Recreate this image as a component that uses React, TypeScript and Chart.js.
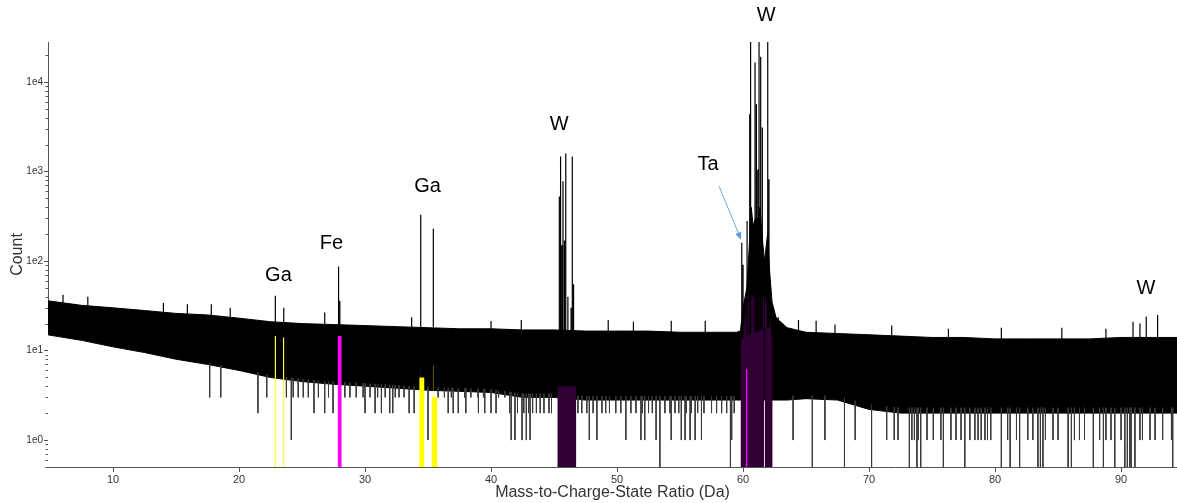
import { useEffect, useRef } from "react";
import { Chart, registerables } from "chart.js";

Chart.register(...registerables);

// ---------- axes ----------
const X_MIN = 4.84;
const X_MAX = 94.44;
const Y_MIN = 0.5;
const Y_MAX = 28000;
const xTicks = [10, 20, 30, 40, 50, 60, 70, 80, 90];
const yTicks = [1, 10, 100, 1000, 10000];
const yTickLabels = ["1e0", "1e1", "1e2", "1e3", "1e4"];
const xTitle = "Mass-to-Charge-State Ratio (Da)";
const yTitle = "Count";

// ---------- background noise band (dense region of the spectrum) ----------
const bandX = [4.8, 7.5, 10, 12.5, 15, 17.5, 20, 22.5, 25, 27.5, 30, 32.5, 35, 37.5, 40, 42.5, 45, 47.5, 50, 52.5, 55, 57.5, 59.5, 62.5, 63.5, 65, 67.5, 70, 72.5, 75, 77.5, 80, 82.5, 85, 87.5, 90, 92.5, 94.5];
const bandTop = [36, 32, 30, 28, 26, 25, 23, 21, 20, 19.5, 19, 18.5, 18, 17.5, 17.5, 17, 17, 16.5, 16.5, 16.5, 16, 16, 16, 24, 18, 16, 15.5, 15, 14.5, 14, 14, 13.5, 13.5, 13.5, 13.5, 14, 14, 14];
const bandBottom = [15, 13, 11, 9.5, 8, 7, 6, 5, 4.5, 4.2, 4, 3.8, 3.6, 3.5, 3.4, 3, 3, 2.8, 2.8, 2.8, 2.8, 2.8, 2.8, 2.8, 2.8, 2.9, 2.8, 2.2, 2, 2, 2, 2, 2, 2, 2, 2, 2, 2];

// dense base of the W 3+ cluster
const skirtX = [59.8, 60.0, 60.3, 60.5, 60.65, 60.8, 61.0, 61.2, 61.35, 61.5, 61.7, 61.95, 62.1, 62.3, 62.6, 63.0];
const skirtCount = [17, 30, 50, 150, 400, 250, 300, 300, 400, 200, 100, 200, 80, 35, 24, 18];

// ---------- peaks and tallest noise bins ----------
const peakX = [22.88, 23.55, 27.9, 28.0, 34.42, 35.42,
  45.42, 45.52, 45.62, 45.71, 45.83, 45.93, 46.1, 46.35, 46.45, 46.55,
  59.9, 60.0, 60.32, 60.53, 60.6, 60.95, 61.06, 61.17, 61.27, 61.4, 61.53, 61.96, 62.06,
  90.95, 91.5, 92.0, 92.9,
  6.03, 8.0, 14.0, 15.9, 17.8, 19.3, 26.8, 33.7, 40.0, 42.4, 49.3, 51.3, 54.3, 57.0,
  62.8, 64.4, 65.8, 67.3, 71.8, 76.3, 80.5, 85.3, 88.8];
const peakCount = [41, 30, 87, 36, 330, 230,
  525, 1470, 150, 780, 170, 1590, 40, 30, 1470, 55,
  160, 91, 280, 4370, 40000, 16500, 5630, 1055, 40000, 19200, 3100, 40000, 820,
  21, 20, 24, 25,
  42, 40, 34, 33, 33, 30, 26.6, 23.5, 21.4, 22, 22, 21, 21.5, 21.5,
  23.5, 22, 21.5, 19.5, 19, 17.5, 18, 18, 17.5];

// ---------- low-count bins below the band ----------
const dipX = [17.67, 18.55, 21.5, 22.2, 24.15, 25.95, 26.8, 27.46, 30.0, 30.8, 31.3, 31.96, 32.2, 33.5, 33.9, 35.0, 36.6, 37.0, 37.4, 38.0, 39.0, 39.5, 40.0, 40.4,
  41.6, 41.9, 42.46, 42.8, 43.1, 47.8, 48.4, 50.7, 51.9, 52.2, 53.1, 53.4, 54.3, 55.1, 55.4, 55.8, 56.2, 56.7, 59.0, 59.1,
  63.97, 65.5, 66.5, 68.05, 68.9, 70.2, 71.4, 72.0, 72.3, 73.2, 73.4, 73.6, 73.8, 73.9, 74.1, 74.6, 75.1, 75.7, 75.9, 76.5, 76.9,
  77.3, 77.6, 78.0, 78.4, 78.65, 78.9, 79.2, 79.4, 79.66, 80.5, 81.0, 81.2, 81.7, 81.95, 82.6, 83.0, 83.4, 83.6, 83.8, 84.0, 84.6, 85.0,
  85.8, 86.06, 86.3, 86.7, 87.1, 87.8, 88.3, 88.6, 88.8, 89.2, 89.5, 90.0, 90.3, 90.5, 90.7, 90.8, 91.1, 91.5, 91.7, 92.3, 92.7, 93.3, 94.0, 94.1,
  41.48, 42.1, 42.6, 42.98, 43.3, 43.6, 43.9, 44.2, 44.6, 44.8, 46.9, 47.2, 47.6, 48.1, 48.8, 49.1, 49.4, 49.9, 50.3, 51.1, 51.5, 52.0, 52.5, 52.8,
  53.8, 54.2, 54.6, 54.9, 55.5, 55.9, 56.4, 56.9, 57.5, 57.9, 58.3, 58.7, 59.3,
  23.76, 24.3, 24.7, 25.1, 25.5, 26.3, 27.1, 28.4, 28.8, 29.3, 29.85, 30.4, 31.0, 31.6, 32.4, 32.7, 33.1, 35.8, 36.3, 36.85, 37.9, 38.4, 38.97, 39.4, 40.6, 41.1];
const dipCount = [3, 3, 2, 3, 1, 2, 2, 2, 2, 2, 2, 2, 2, 2, 2, 1, 2, 2, 2, 2, 2, 2, 2, 2,
  1, 1, 1, 1, 1, 1, 1, 1, 1, 1, 1, 0, 1, 1, 1, 1, 1, 1, 0, 1,
  1, 0, 1, 0, 1, 0, 1, 1, 1, 0, 1, 1, 0, 1, 0, 1, 1, 1, 0, 1, 1,
  1, 0, 1, 1, 1, 1, 1, 1, 1, 0, 1, 0, 1, 0, 1, 1, 0, 0, 0, 1, 1, 1,
  0, 0, 1, 1, 1, 0, 1, 0, 1, 1, 0, 1, 0, 0, 0, 0, 0, 1, 1, 1, 1, 1, 1, 0,
  2, 2, 2, 2, 2, 2, 2, 2, 2, 2, 2, 2, 2, 2, 2, 2, 2, 2, 2, 2, 2, 2, 2, 2,
  2, 2, 2, 2, 2, 2, 2, 2, 2, 2, 2, 2, 2,
  3, 3, 3, 3, 3, 3, 3, 3, 3, 3, 3, 3, 3, 3, 3, 3, 3, 3, 3, 3, 3, 3, 3, 3, 3, 3];

// ---------- ranged ions (coloured fills) ----------
const rangeStart = [22.82, 23.48, 27.82, 34.3, 34.38, 35.28, 35.38, 45.26, 60.22];
const rangeEnd = [22.94, 23.6, 28.15, 34.72, 34.44, 35.74, 35.44, 46.77, 60.36];
const rangeTop = [14.5, 14, 14.5, 5, 6.8, 3, 6.8, 4, 6.2];
const rangeColor = ["#ffff33", "#ffff33", "#ff00ff", "#ffff00", "#ffff00", "#ffff00", "#ffff00", "#300035", "#ff00ff"];

// W 3+ ranged region outline
const purpleX = [59.8, 59.8, 60.1, 60.4, 61.66, 61.66, 61.73, 61.73, 62.1, 62.35, 62.35];
const purpleCount = [0.3, 12, 20, 40, 40, 0.3, 0.3, 40, 25, 12, 0.3];

// ---------- annotations ----------
const labelText = ["Ga", "Fe", "Ga", "W", "Ta", "W", "W"];
const labelX = [23.13, 27.34, 34.96, 45.4, 57.22, 61.83, 91.98];
const labelCount = [69, 158, 684, 3366, 1203, 55000, 49.5];
const arrowFrom = { x: 58.1, y: 684 };
const arrowTo = { x: 59.84, y: 173 };

const FONT = '"Liberation Sans", Arial, sans-serif';

function bandAt(arr: number[], x: number) {
  for (let i = 0; i < bandX.length - 1; i++) {
    if (x >= bandX[i] && x <= bandX[i + 1]) {
      const t = (x - bandX[i]) / (bandX[i + 1] - bandX[i]);
      return arr[i] + t * (arr[i + 1] - arr[i]);
    }
  }
  return arr[arr.length - 1];
}

function verticals(xs: number[], tops: number[], base: (x: number) => number) {
  const pairs = xs.map((x, i) => [x, tops[i]]).sort((a, b) => a[0] - b[0]);
  const out: any[] = [];
  pairs.forEach(([x, t]) => {
    const v = t <= 0 ? Y_MIN * 0.4 : t;
    out.push({ x, y: base(x) }, { x, y: v }, { x, y: null });
  });
  return out;
}

const overlay = {
  id: "overlay",
  afterDraw(chart: any) {
    const { ctx, chartArea } = chart;
    const xs = chart.scales.x;
    const ys = chart.scales.y;
    ctx.save();
    // minor y ticks
    ctx.strokeStyle = "#555";
    ctx.lineWidth = 1;
    for (let d = -1; d <= 4; d++) {
      for (let m = 2; m <= 9; m++) {
        const v = m * Math.pow(10, d);
        if (v < Y_MIN || v > Y_MAX) continue;
        const py = Math.round(ys.getPixelForValue(v)) + 0.5;
        ctx.beginPath();
        ctx.moveTo(chartArea.left - 2.5, py);
        ctx.lineTo(chartArea.left, py);
        ctx.stroke();
      }
    }
    // annotation labels
    ctx.fillStyle = "#000";
    ctx.font = `20px ${FONT}`;
    ctx.textAlign = "center";
    ctx.textBaseline = "middle";
    labelText.forEach((t, i) => {
      ctx.fillText(t, xs.getPixelForValue(labelX[i]), ys.getPixelForValue(labelCount[i]));
    });
    // arrow
    const x1 = xs.getPixelForValue(arrowFrom.x);
    const y1 = ys.getPixelForValue(arrowFrom.y);
    const x2 = xs.getPixelForValue(arrowTo.x);
    const y2 = ys.getPixelForValue(arrowTo.y);
    const ang = Math.atan2(y2 - y1, x2 - x1);
    const hl = 8;
    ctx.strokeStyle = "#6fa8dc";
    ctx.fillStyle = "#5b9bd5";
    ctx.lineWidth = 1;
    ctx.beginPath();
    ctx.moveTo(x1, y1);
    ctx.lineTo(x2 - Math.cos(ang) * hl * 0.8, y2 - Math.sin(ang) * hl * 0.8);
    ctx.stroke();
    ctx.beginPath();
    ctx.moveTo(x2, y2);
    ctx.lineTo(x2 - hl * Math.cos(ang - 0.4), y2 - hl * Math.sin(ang - 0.4));
    ctx.lineTo(x2 - hl * Math.cos(ang + 0.4), y2 - hl * Math.sin(ang + 0.4));
    ctx.closePath();
    ctx.fill();
    // axis titles
    ctx.fillStyle = "#333";
    ctx.font = `16px ${FONT}`;
    ctx.fillText(xTitle, (chartArea.left + chartArea.right) / 2, chartArea.bottom + 26);
    ctx.translate(18, (chartArea.top + chartArea.bottom) / 2);
    ctx.rotate(-Math.PI / 2);
    ctx.fillText(yTitle, 0, 0);
    ctx.restore();
  },
};

export default function App() {
  const ref = useRef<HTMLCanvasElement | null>(null);
  useEffect(() => {
    if (!ref.current) return;
    const datasets: any[] = [];
    const common = { pointRadius: 0, tension: 0, showLine: true };
    // dips (top-most)
    datasets.push({ ...common, data: verticals(dipX, dipCount, (x) => bandAt(bandBottom, x) + 0.3), borderColor: "#3a3a3a", borderWidth: 1, fill: false, order: 1 });
    // peaks: start inside the band
    datasets.push({ ...common, data: verticals(peakX, peakCount, (x) => bandAt(bandTop, x) * 0.8), borderColor: "#000", borderWidth: 1.2, fill: false, order: 2 });
    // ranged fills
    rangeStart.forEach((s, i) => {
      datasets.push({
        ...common,
        data: [{ x: s, y: rangeTop[i] }, { x: rangeEnd[i], y: rangeTop[i] }],
        borderWidth: 0,
        borderColor: rangeColor[i],
        backgroundColor: rangeColor[i],
        fill: "start",
        order: i === rangeStart.length - 1 ? 3 : i === 7 ? 7 : 4,
      });
    });
    datasets.push({ ...common, data: purpleX.map((x, i) => ({ x, y: purpleCount[i] })), borderWidth: 0, borderColor: "#300035", backgroundColor: "#300035", fill: "start", order: 5 });
    datasets.push({ ...common, data: skirtX.map((x, i) => ({ x, y: skirtCount[i] })), borderWidth: 1, borderColor: "#000", backgroundColor: "#000", fill: { value: 10 }, order: 6 });
    // band: white below the lower edge, black below the upper edge
    datasets.push({ ...common, data: bandX.map((x, i) => ({ x, y: bandBottom[i] })), borderWidth: 1, borderColor: "#000", backgroundColor: "#fff", fill: "start", order: 10 });
    datasets.push({ ...common, data: bandX.map((x, i) => ({ x, y: bandTop[i] })), borderWidth: 1, borderColor: "#000", backgroundColor: "#000", fill: "start", order: 11 });

    const chart = new Chart(ref.current, {
      type: "line",
      data: { datasets },
      options: {
        animation: false,
        responsive: false,
        devicePixelRatio: 1,
        layout: { padding: { top: 42, left: 0, right: 0, bottom: 0 } },
        plugins: { legend: { display: false }, tooltip: { enabled: false }, title: { display: false } },
        scales: {
          x: {
            type: "linear",
            min: X_MIN,
            max: X_MAX,
            z: 1,
            afterBuildTicks: (ax: any) => { ax.ticks = xTicks.map((v) => ({ value: v })); },
            afterFit: (s: any) => { s.height = 36; },
            ticks: { font: { size: 11, family: FONT }, color: "#333", padding: 1, maxRotation: 0, autoSkip: false, callback: (v: any) => String(v) },
            grid: { display: true, drawOnChartArea: false, drawTicks: true, tickLength: 5, color: "#555" },
            border: { display: true, color: "#555", width: 1 },
          },
          y: {
            type: "logarithmic",
            min: Y_MIN,
            max: Y_MAX,
            z: 1,
            afterBuildTicks: (ax: any) => { ax.ticks = yTicks.map((v) => ({ value: v })); },
            afterFit: (s: any) => { s.width = 48; },
            ticks: { font: { size: 10, family: FONT }, color: "#333", padding: 1, autoSkip: false, callback: (_v: any, i: number) => yTickLabels[i] },
            grid: { display: true, drawOnChartArea: false, drawTicks: true, tickLength: 4, color: "#555" },
            border: { display: true, color: "#555", width: 1 },
          },
        },
      } as any,
      plugins: [overlay],
    });
    return () => chart.destroy();
  }, []);
  return (
    <div style={{ position: "fixed", left: 0, top: 0, width: 1177, height: 503, background: "#fff" }}>
      <canvas ref={ref} width={1177} height={503} style={{ display: "block" }} />
    </div>
  );
}
